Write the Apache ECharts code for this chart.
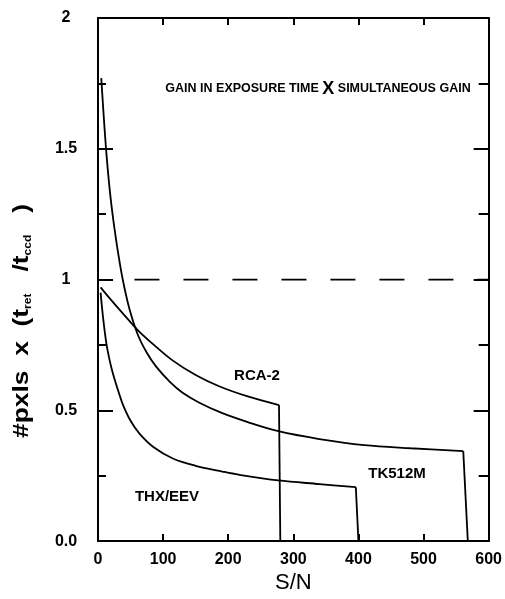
<!DOCTYPE html>
<html>
<head>
<meta charset="utf-8">
<script src="https://cdn.jsdelivr.net/npm/echarts@6/dist/echarts.min.js"></script>
<style>html,body{margin:0;padding:0;background:#fff;}#c{width:505px;height:599px;}</style>
</head>
<body>
<div id="c"></div>
<script>
// ---- data ----
var xTicks = [0, 100, 200, 300, 400, 500, 600];
var yTicks = ['0.0', '0.5', '1', '1.5', '2'];

var tk512m = [[5,1.77],[10,1.58],[14,1.45],[19,1.32],[25,1.20],[31,1.10],[38,1.00],[48,0.89],[61,0.79],[75,0.72],[89,0.668],[110,0.61],[130,0.567],[155,0.53],[190,0.49],[230,0.455],[277,0.42],[340,0.39],[409,0.367],[480,0.355],[561,0.344],[568,0]];
var rca2 = [[4,0.97],[20,0.922],[40,0.865],[61,0.807],[85,0.752],[115,0.69],[150,0.635],[186,0.592],[230,0.553],[278,0.52],[280,0]];
var thxeev = [[4,0.95],[8,0.85],[13,0.754],[18,0.69],[23,0.64],[32,0.567],[38.5,0.52],[50,0.46],[64,0.41],[85,0.36],[115,0.316],[150,0.288],[191,0.266],[216,0.254],[277,0.232],[340,0.218],[396,0.206],[400,0]];
var unityLine = [[56,1],[600,1]];

var seriesNames = ['TK512M', 'RCA-2', 'THX/EEV'];
var title = 'GAIN IN EXPOSURE TIME {x|X} SIMULTANEOUS GAIN';
var yName = '#pxls  x  (t{sub|ret}   /t{sub|ccd}   )';

var chart = echarts.init(document.getElementById('c'), null, {renderer: 'canvas'});
var FONT = 'Liberation Sans, Arial, sans-serif';
var axisLineStyle = {color: '#000', width: 2};

function yLabel(v) {
  var i = Math.round(v / 0.5);
  return yTicks[i] !== undefined ? yTicks[i] : '';
}

// smooth body of a curve + its straight vertical cut-off
function curve(name, data) {
  var n = data.length;
  return [{
    name: name, type: 'line', data: data.slice(0, n - 1), showSymbol: false, symbol: 'none',
    smooth: 0.35, lineStyle: {color: '#000', width: 1.8}, z: 3
  }, {
    name: name + ' cut', type: 'line', data: data.slice(n - 2), showSymbol: false, symbol: 'none',
    lineStyle: {color: '#000', width: 1.8}, z: 3
  }];
}

var series = [].concat(
  curve(seriesNames[0], tk512m),
  curve(seriesNames[1], rca2),
  curve(seriesNames[2], thxeev),
  [{
    name: 'unity', type: 'line', data: unityLine, showSymbol: false, symbol: 'none',
    lineStyle: {color: '#000', width: 1.8, type: [25, 24]}, z: 2
  }]
);

var option = {
  backgroundColor: '#fff',
  animation: false,
  grid: {left: 98, right: 13, top: 18, bottom: 48, containLabel: false},
  xAxis: [{
    type: 'value', position: 'bottom', min: xTicks[0], max: xTicks[xTicks.length - 1], interval: 100,
    axisLine: {show: true, onZero: false, lineStyle: axisLineStyle},
    axisTick: {show: true, inside: true, length: 7, lineStyle: {color: '#000', width: 2}},
    axisLabel: {show: true, color: '#000', fontSize: 16, fontWeight: 'bold', fontFamily: FONT, margin: 10},
    splitLine: {show: false},
    name: 'S/N', nameLocation: 'middle', nameGap: 30,
    nameTextStyle: {color: '#000', fontSize: 22, fontFamily: FONT}
  }, {
    type: 'value', position: 'top', min: xTicks[0], max: xTicks[xTicks.length - 1], interval: 100,
    axisLine: {show: true, onZero: false, lineStyle: axisLineStyle},
    axisTick: {show: true, inside: true, length: 7, lineStyle: {color: '#000', width: 2}},
    axisLabel: {show: false}, splitLine: {show: false}
  }],
  yAxis: [{
    type: 'value', position: 'left', min: 0, max: 2, interval: 0.5,
    axisLine: {show: true, onZero: false, lineStyle: axisLineStyle},
    axisTick: {show: true, inside: true, length: 15, lineStyle: {color: '#000', width: 2}},
    minorTick: {show: true, splitNumber: 2, length: 8, lineStyle: {color: '#000', width: 2}},
    axisLabel: {show: true, color: '#000', fontSize: 16, fontWeight: 'bold', fontFamily: FONT, margin: 32, align: 'center', formatter: yLabel},
    splitLine: {show: false}
  }, {
    type: 'value', position: 'right', min: 0, max: 2, interval: 0.5,
    axisLine: {show: true, onZero: false, lineStyle: axisLineStyle},
    axisTick: {show: true, inside: true, length: 15, lineStyle: {color: '#000', width: 2}},
    minorTick: {show: true, splitNumber: 2, length: 10, lineStyle: {color: '#000', width: 2}},
    axisLabel: {show: false}, splitLine: {show: false}
  }],
  series: series,
  graphic: [
    {type: 'text', x: 22, y: 321, rotation: Math.PI / 2, scaleX: 1.2, scaleY: 1,
     style: {text: yName, fill: '#000', fontSize: 22, fontWeight: 'bold', fontFamily: FONT,
             align: 'center', verticalAlign: 'middle',
             rich: {sub: {fontSize: 10, fontWeight: 'bold', fontFamily: FONT, fill: '#000', verticalAlign: 'bottom'}}}},
    {type: 'text', x: 318, y: 89,
     style: {text: title, fill: '#000', fontSize: 12.5, fontWeight: 'bold', fontFamily: FONT, align: 'center', verticalAlign: 'middle',
             rich: {x: {fontSize: 18, fontWeight: 'bold', fontFamily: FONT, fill: '#000'}}}},
    {type: 'text', x: 257, y: 376, style: {text: seriesNames[1], fill: '#000', fontSize: 15, fontWeight: 'bold', fontFamily: FONT, align: 'center', verticalAlign: 'middle'}},
    {type: 'text', x: 397, y: 474, style: {text: seriesNames[0], fill: '#000', fontSize: 15, fontWeight: 'bold', fontFamily: FONT, align: 'center', verticalAlign: 'middle'}},
    {type: 'text', x: 167, y: 497, style: {text: seriesNames[2], fill: '#000', fontSize: 15, fontWeight: 'bold', fontFamily: FONT, align: 'center', verticalAlign: 'middle'}}
  ]
};
chart.setOption(option);
</script>
</body>
</html>
